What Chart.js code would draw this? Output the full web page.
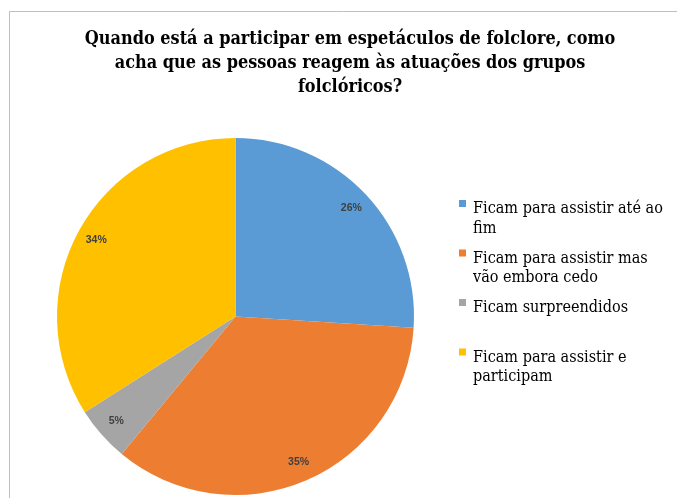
<!DOCTYPE html>
<html><head><meta charset="utf-8">
<script src="https://cdn.jsdelivr.net/npm/chart.js@4.4.1/dist/chart.umd.min.js"></script>
<style>html,body{margin:0;padding:0;background:#fff;overflow:hidden}canvas{display:block}</style>
</head><body>
<canvas id="c" width="677" height="498"></canvas>
<script>
const titleLines = [
  "Quando está a participar em espetáculos de folclore, como",
  "acha que as pessoas reagem às atuações dos grupos",
  "folclóricos?"
];
const categories = [
  ["Ficam para assistir até ao", "fim"],
  ["Ficam para assistir mas", "vão embora cedo"],
  ["Ficam surpreendidos"],
  ["Ficam para assistir e", "participam"]
];
const values = [26, 35, 5, 34];
const colors = ["#5B9BD5", "#ED7D31", "#A5A5A5", "#FFC000"];

function fitFont(ctx, text, target, weight, family) {
  ctx.font = weight + ' 20px ' + family;
  const w = ctx.measureText(text).width;
  return 20 * target / w;
}

const decor = {
  id: 'decor',
  beforeDraw(chart) {
    const ctx = chart.ctx;
    ctx.save();
    ctx.fillStyle = '#fff';
    ctx.fillRect(0, 0, chart.width, chart.height);
    ctx.strokeStyle = '#BFBFBF';
    ctx.lineWidth = 1;
    ctx.beginPath();
    ctx.moveTo(9.5, chart.height + 5);
    ctx.lineTo(9.5, 11.5);
    ctx.lineTo(chart.width + 5, 11.5);
    ctx.stroke();
    ctx.restore();
  },
  afterDatasetsDraw(chart) {
    const ctx = chart.ctx;
    const meta = chart.getDatasetMeta(0);
    ctx.save();
    ctx.fillStyle = '#404040';
    ctx.font = 'bold 10.5px "Liberation Sans"';
    ctx.textAlign = 'center';
    ctx.textBaseline = 'middle';
    meta.data.forEach((arc, i) => {
      const p = arc.getProps(['x', 'y', 'startAngle', 'endAngle', 'outerRadius'], true);
      const mid = (p.startAngle + p.endAngle) / 2;
      const r = p.outerRadius * 0.89;
      ctx.fillText(values[i] + '%', p.x + Math.cos(mid) * r, p.y + Math.sin(mid) * r);
    });
    ctx.restore();
  },
  afterDraw(chart) {
    const ctx = chart.ctx;
    ctx.save();
    // title
    const tf = '"DejaVu Serif Condensed", "DejaVu Serif", serif';
    const ts = fitFont(ctx, titleLines[0], 531, 'bold', tf);
    ctx.font = 'bold ' + ts + 'px ' + tf;
    ctx.fillStyle = '#000';
    ctx.textAlign = 'center';
    ctx.textBaseline = 'alphabetic';
    titleLines.forEach((t, i) => ctx.fillText(t, 350, 44 + i * 24));
    // legend
    const lf = '"DejaVu Serif Condensed", "DejaVu Serif", serif';
    const ls = fitFont(ctx, categories[0][0], 190, 'normal', lf);
    ctx.font = ls + 'px ' + lf;
    ctx.textAlign = 'left';
    const ds = chart.data.datasets[0];
    chart.data.labels.forEach((lab, i) => {
      const base = 213 + i * 49.5;
      ctx.fillStyle = ds.backgroundColor[i];
      ctx.fillRect(459, base - 13, 7, 7);
      ctx.fillStyle = '#000';
      lab.forEach((line, j) => ctx.fillText(line, 473, base + j * 19.5));
    });
    ctx.restore();
  }
};

new Chart(document.getElementById('c'), {
  type: 'pie',
  data: {
    labels: categories,
    datasets: [{
      data: values,
      backgroundColor: colors,
      borderWidth: 0
    }]
  },
  options: {
    responsive: false,
    devicePixelRatio: 1,
    animation: false,
    layout: { padding: { left: 57, right: 263, top: 138, bottom: 3 } },
    plugins: {
      legend: { display: false },
      title: { display: false },
      tooltip: { enabled: false }
    }
  },
  plugins: [decor]
});
</script>
</body></html>
